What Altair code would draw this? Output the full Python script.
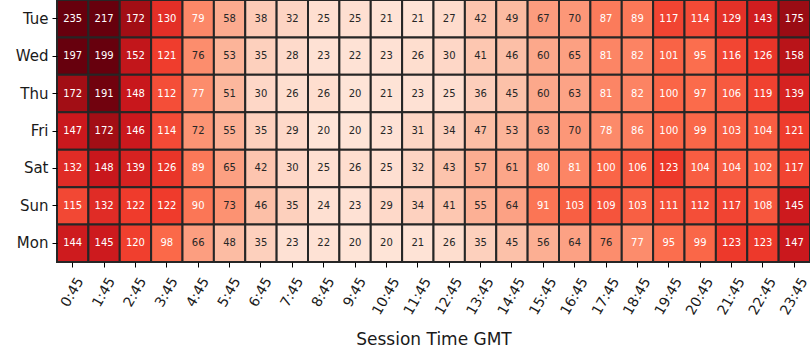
import altair as alt
import pandas as pd

days = ["Tue", "Wed", "Thu", "Fri", "Sat", "Sun", "Mon"]
times = [f"{h}:45" for h in range(24)]
values = {
    "Tue": [235, 217, 172, 130, 79, 58, 38, 32, 25, 25, 21, 21, 27, 42, 49, 67, 70, 87, 89, 117, 114, 129, 143, 175],
    "Wed": [197, 199, 152, 121, 76, 53, 35, 28, 23, 22, 23, 26, 30, 41, 46, 60, 65, 81, 82, 101, 95, 116, 126, 158],
    "Thu": [172, 191, 148, 112, 77, 51, 30, 26, 26, 20, 21, 23, 25, 36, 45, 60, 63, 81, 82, 100, 97, 106, 119, 139],
    "Fri": [147, 172, 146, 114, 72, 55, 35, 29, 20, 20, 23, 31, 34, 47, 53, 63, 70, 78, 86, 100, 99, 103, 104, 121],
    "Sat": [132, 148, 139, 126, 89, 65, 42, 30, 25, 26, 25, 32, 43, 57, 61, 80, 81, 100, 106, 123, 104, 104, 102, 117],
    "Sun": [115, 132, 122, 122, 90, 73, 46, 35, 24, 23, 29, 34, 41, 55, 64, 91, 103, 109, 103, 111, 112, 117, 108, 145],
    "Mon": [144, 145, 120, 98, 66, 48, 35, 23, 22, 20, 20, 21, 26, 35, 45, 56, 64, 76, 77, 95, 99, 123, 123, 147],
}

reds = ["#fff5f0", "#fee0d2", "#fcbba1", "#fc9272", "#fb6a4a",
        "#ef3b2c", "#cb181d", "#a50f15", "#67000d"]

rows = []
for d in days:
    for t, v in zip(times, values[d]):
        rows.append({"day": d, "time": t, "value": v})
df = pd.DataFrame(rows)

vmin = 0
vmax = 195
stops = [vmin + i * (vmax - vmin) / (len(reds) - 1) for i in range(len(reds))]

FONT = "DejaVu Sans"

base = alt.Chart(df).encode(
    x=alt.X("time:O", sort=times, title="Session Time GMT",
            axis=alt.Axis(labelAngle=-60, labelAlign="center", labelBaseline="middle",
                          labelFontSize=14, titleFontSize=17, titleFontWeight="normal",
                          labelFont=FONT, titleFont=FONT,
                          tickColor="black", tickSize=5, domain=False,
                          labelPadding={"condition": {"test": "length(datum.label) > 4", "value": 29},
                                        "value": 25},
                          titleY=82, titleBaseline="alphabetic",
                          labelColor="#1a1a1a", titleColor="#1a1a1a")),
    y=alt.Y("day:O", sort=days, title=None,
            axis=alt.Axis(labelFontSize=15, labelFont=FONT, tickColor="black",
                          tickSize=5, domain=False, labelPadding=4, labelColor="#1a1a1a")),
)

rect = base.mark_rect(stroke="#262626", strokeWidth=2).encode(
    color=alt.Color("value:Q",
                    scale=alt.Scale(domain=stops, range=reds, interpolate="rgb", clamp=True),
                    legend=None)
)

text = base.mark_text(font=FONT, fontSize=10).encode(
    text="value:Q",
    color=alt.condition(alt.datum.value >= 77, alt.value("white"), alt.value("#262626")),
)

chart = (rect + text).properties(
    width=753, height=262,
    autosize=alt.AutoSizeParams(type="none"),
    padding={"left": 57, "top": 0, "right": 0, "bottom": 98},
).configure_view(stroke=None).configure_scale(bandPaddingInner=0, bandPaddingOuter=0)

chart.save("out.html", embed_options={"renderer": "svg", "actions": False})
